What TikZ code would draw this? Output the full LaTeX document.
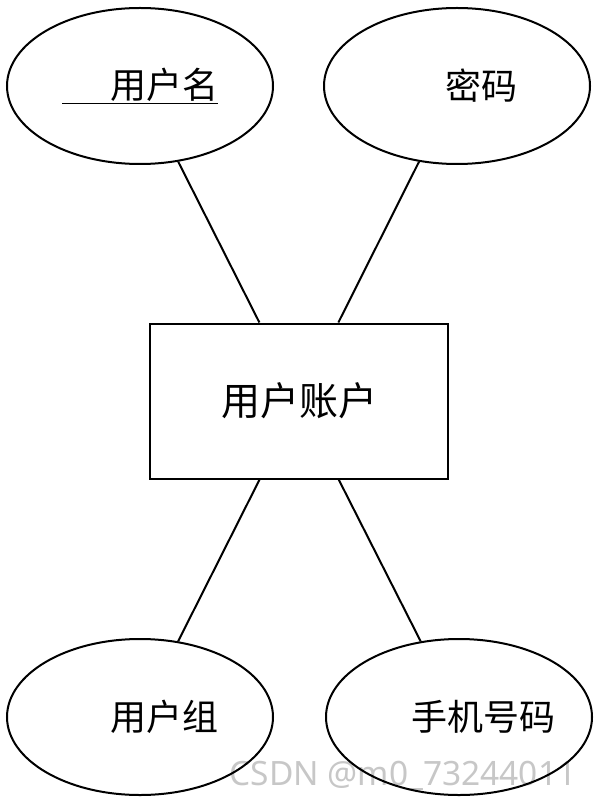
\documentclass[tikz,border=0pt]{standalone}
\usepackage{fontspec}
\newfontfamily\cjk{Noto Sans CJK SC}
\setsansfont{Noto Sans}
\usetikzlibrary{shapes,positioning}

\newcommand{\lead}[1]{\makebox[0pt]{\hspace*{48pt}#1}}

\begin{document}
\begin{tikzpicture}[x=1pt, y=-1pt, line width=2pt,
      every node/.append style={font=\cjk\fontsize{36}{40}\selectfont},
      attr/.style={ellipse, draw, minimum width=266pt, minimum height=156pt},
      entity/.style={rectangle, draw, minimum width=298pt, minimum height=155pt}]
    \useasboundingbox (0,0) rectangle (596,802);
    % watermark
    \node (mark) at (403,776) [text=black!22, font=\sffamily\fontsize{33.5}{36}\selectfont] {CSDN @m0\_73244011};
    \node (acct) at (299,401) [entity, font=\cjk\fontsize{39}{42}\selectfont] {用户账户};
    \node (name) at (140,86) [attr] {\makebox[0pt]{\underline{\hspace*{48pt}用户名}}};
    \node (pwd) at (457,86) [attr] {\lead{密码}};
    \node (group) at (140,717) [attr] {\lead{用户组}};
    \node (phone) at (459,717) [attr] {\lead{手机号码}};
    \draw (name) -- (acct);
    \draw (pwd) -- (acct);
    \draw (group) -- (acct);
    \draw (phone) -- (acct);
  \end{tikzpicture}
\end{document}
